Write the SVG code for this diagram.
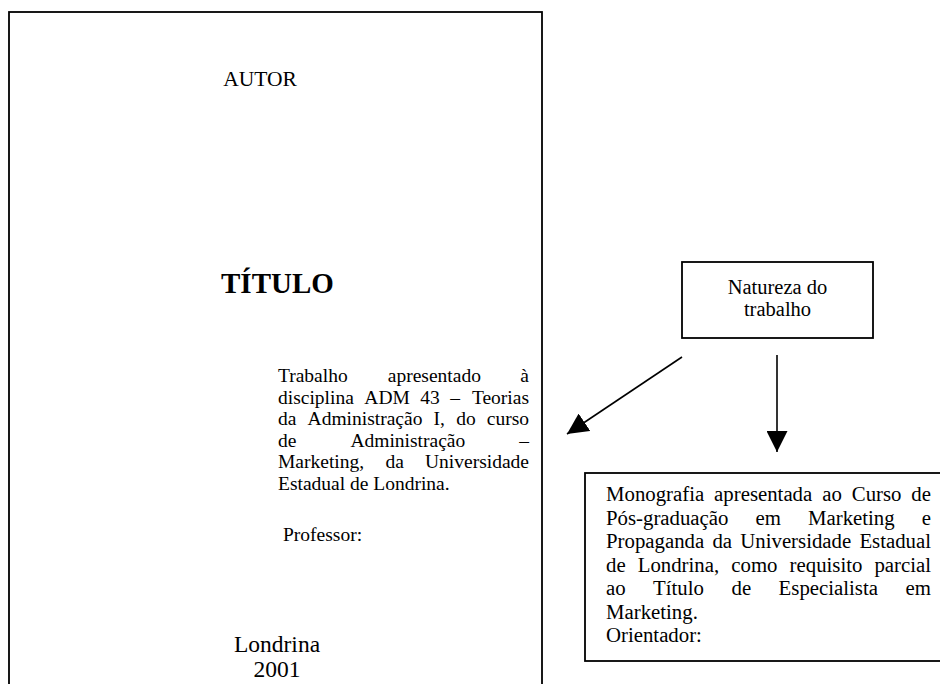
<svg xmlns="http://www.w3.org/2000/svg" width="940" height="684" viewBox="0 0 940 684">
<style>
text{font-family:"Liberation Serif","Times New Roman",serif;fill:#000}
.b{font-size:19.5px}
.n{font-size:20.5px;text-anchor:middle}
.m{font-size:20.8px}
.e{text-anchor:end}
.box{fill:#fff;stroke:#000;stroke-width:1.8}
.conn{stroke:#000;stroke-width:1.6;fill:none}
</style>
<defs>
<marker id="ah" viewBox="0 0 10 10" refX="10" refY="5" markerWidth="21" markerHeight="21" markerUnits="userSpaceOnUse" orient="auto">
<path d="M0,0 L10,5 L0,10 Z" fill="#000"/>
</marker>
</defs>
<rect width="940" height="684" fill="#fff"/>
<g id="page">
<rect class="box" x="9" y="12" width="533" height="700"/>
<text x="260" y="86" font-size="21.5" text-anchor="middle">AUTOR</text>
<text x="221" y="293" font-size="29" font-weight="bold">TÍTULO</text>
<g class="b">
<text x="278" y="382">Trabalho</text><text x="387.8" y="382">apresentado</text><text class="e" x="529" y="382">à</text>
<text x="278" y="403.6">disciplina</text><text x="364.3" y="403.6">ADM</text><text x="420.3" y="403.6">43</text><text x="450.3" y="403.6">–</text><text class="e" x="529" y="403.6">Teorias</text>
<text x="278" y="425.2">da</text><text x="307.6" y="425.2">Administração</text><text x="433.6" y="425.2">I,</text><text x="456.2" y="425.2">do</text><text class="e" x="529" y="425.2">curso</text>
<text x="278" y="446.8">de</text><text x="350.4" y="446.8">Administração</text><text class="e" x="529" y="446.8">–</text>
<text x="278" y="468.4">Marketing,</text><text x="385.4" y="468.4">da</text><text class="e" x="529" y="468.4">Universidade</text>
<text x="278" y="490">Estadual de Londrina.</text>
<text x="283" y="541">Professor:</text>
</g>
<text x="277" y="652" font-size="23.5" text-anchor="middle">Londrina</text>
<text x="277" y="677" font-size="23.5" text-anchor="middle">2001</text>
</g>
<g id="natureza">
<rect class="box" x="682" y="262" width="191" height="76"/>
<text class="n" x="777.5" y="294">Natureza do</text>
<text class="n" x="777.5" y="316">trabalho</text>
</g>
<g id="monografia">
<rect class="box" x="585" y="473" width="400" height="188"/>
<g class="m">
<text x="606" y="501">Monografia</text><text x="714.1" y="501">apresentada</text><text x="822.2" y="501">ao</text><text x="851.8" y="501">Curso</text><text class="e" x="931" y="501">de</text>
<text x="606" y="524.5">Pós-graduação</text><text x="755.5" y="524.5">em</text><text x="808" y="524.5">Marketing</text><text class="e" x="931" y="524.5">e</text>
<text x="606" y="548">Propaganda</text><text x="712.4" y="548">da</text><text x="740.3" y="548">Universidade</text><text class="e" x="931" y="548">Estadual</text>
<text x="606" y="571.5">de</text><text x="637.7" y="571.5">Londrina,</text><text x="731.3" y="571.5">como</text><text x="789.6" y="571.5">requisito</text><text class="e" x="931" y="571.5">parcial</text>
<text x="606" y="595">ao</text><text x="653.1" y="595">Título</text><text x="731.5" y="595">de</text><text x="778.6" y="595">Especialista</text><text class="e" x="931" y="595">em</text>
<text x="606" y="618.5">Marketing.</text>
<text x="606" y="642">Orientador:</text>
</g>
</g>
<g id="connectors">
<line class="conn" x1="682" y1="357" x2="567" y2="434" marker-end="url(#ah)"/>
<line class="conn" x1="777" y1="355" x2="777" y2="452" marker-end="url(#ah)"/>
</g>
</svg>
